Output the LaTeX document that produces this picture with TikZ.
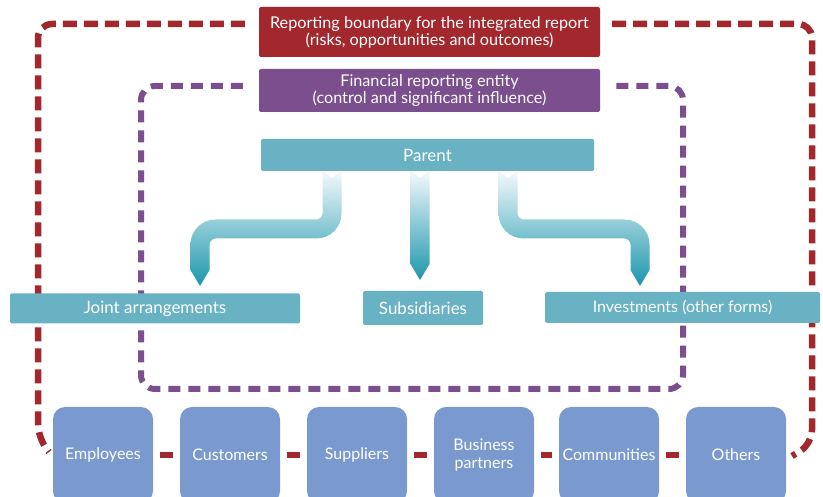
\documentclass[tikz,border=0pt]{standalone}
\usepackage{fontspec}
\setmainfont{Lato}
\pgfdeclarelayer{background}
\pgfsetlayers{background,main}

\definecolor{boundred}{HTML}{A2282E}
\definecolor{entitypurple}{HTML}{7B4E8D}
\definecolor{boxteal}{HTML}{68B2C4}
\definecolor{arrowteal}{HTML}{1B96AD}
\definecolor{arrowpale}{HTML}{F4F9FB}
\definecolor{stakeblue}{HTML}{7A9ACF}

\tikzset{
  banner/.style={rounded corners=2pt, text=white, align=center, inner sep=0pt,
    font=\fontsize{16.2}{17}\selectfont},
  entitybox/.style={fill=boxteal, text=white, rounded corners=1.5pt, inner sep=0pt,
    font=\fontsize{17}{18}\selectfont},
  stakebox/.style={fill=stakeblue, text=white, rounded corners=12pt, inner sep=0pt,
    minimum width=100pt, minimum height=96pt, align=center,
    font=\fontsize{16}{18}\selectfont},
  redline/.style={boundred, line width=6.5pt, dash pattern=on 14pt off 7pt, rounded corners=14pt},
  purpleline/.style={entitypurple, line width=6pt, dash pattern=on 12pt off 8pt, rounded corners=14pt},
  link/.style={boundred, line width=6.5pt, shorten <=6.5pt, shorten >=6.5pt},
  flowshade/.style={top color=arrowpale, bottom color=arrowteal},
}

% bent arrow under the parent: #1 x at parent, #2 x at tip, #3 -1 = left, 1 = right
\newcommand{\bentarrow}[3]{%
  \shade[flowshade]
    ({#1+(#3)*9.5},171) -- (#1,178) -- ({#1-(#3)*9.5},171)
    -- ({#1-(#3)*9.5},213.5)
    .. controls ({#1-(#3)*9.5},227.3) and ({#1-(#3)*9.5+(#3)*11.2},238.5) .. ({#1-(#3)*9.5+(#3)*25},238.5)
    -- ({#2-(#3)*15.5},238.5)
    .. controls ({#2-(#3)*12.2},238.5) and ({#2-(#3)*9.5},241.8) .. ({#2-(#3)*9.5},244.5)
    -- ({#2-(#3)*9.5},270) -- (#2,286) -- ({#2+(#3)*9.5},270)
    -- ({#2+(#3)*9.5},244.5)
    .. controls ({#2+(#3)*9.5},230.7) and ({#2+(#3)*9.5-(#3)*11.2},219.5) .. ({#2+(#3)*9.5-(#3)*25},219.5)
    -- ({#1+(#3)*15.5},219.5)
    .. controls ({#1+(#3)*12.2},219.5) and ({#1+(#3)*9.5},216.2) .. ({#1+(#3)*9.5},213.5)
    -- cycle;
}

\begin{document}
\begin{tikzpicture}[x=1pt,y=-1pt]
  \useasboundingbox (0,0) rectangle (823,497);

  % headers
  \node[banner, fill=boundred, minimum width=341pt, minimum height=50pt] (rb) at (429.5,32)
    {Reporting boundary for the integrated report\\(risks, opportunities and outcomes)};
  \node[banner, fill=entitypurple, minimum width=341pt, minimum height=43pt] (fre) at (429.5,90.5)
    {Financial reporting entity\\(control and significant influence)};

  % entities
  \node[entitybox, minimum width=333pt, minimum height=32pt] (parent) at (427.5,155) {Parent};
  \node[entitybox, minimum width=290pt, minimum height=30pt] (ja) at (155,308.5) {Joint arrangements};
  \node[entitybox, minimum width=120pt, minimum height=34pt] (subs) at (423,308) {Subsidiaries};
  \node[entitybox, minimum width=275pt, minimum height=31pt, font=\fontsize{16}{18}\selectfont] (inv)
    at (682.5,307.5) {Investments (other forms)};

  % stakeholders
  \node[stakebox] (emp) at (103,455) {Employees};
  \node[stakebox] (cust) at (230,455) {Customers};
  \node[stakebox] (supp) at (357,455) {Suppliers};
  \node[stakebox] (bp) at (484,455) {Business\\partners};
  \node[stakebox] (comm) at (609,455) {Communities};
  \node[stakebox] (oth) at (736,455) {Others};

  \draw[link] (emp) -- (cust);
  \draw[link] (cust) -- (supp);
  \draw[link] (supp) -- (bp);
  \draw[link] (bp) -- (comm);
  \draw[link] (comm) -- (oth);

  \begin{pgfonlayer}{background}
    % boundaries
    \draw[redline] ([shift={(-14,-8)}]rb.west) -- (38,24) -- (38,438) -- (49,452);
    \draw[redline] ([shift={(12,-8)}]rb.east) -- (812,24) -- (812,444) -- (792,456);
    \draw[purpleline] ([shift={(-16,-4.5)}]fre.west) -- (141,86) -- (141,389)
      -- (683,389) -- (683,86) -- ([shift={(13,-4.5)}]fre.east);

    % flows from the parent
    \bentarrow{332}{200}{-1}
    \bentarrow{508}{640}{1}
    \shade[flowshade] (410.5,171) -- (420,178) -- (429.5,171) -- (429.5,264)
      -- (420,280) -- (410.5,264) -- cycle;
  \end{pgfonlayer}
\end{tikzpicture}
\end{document}
